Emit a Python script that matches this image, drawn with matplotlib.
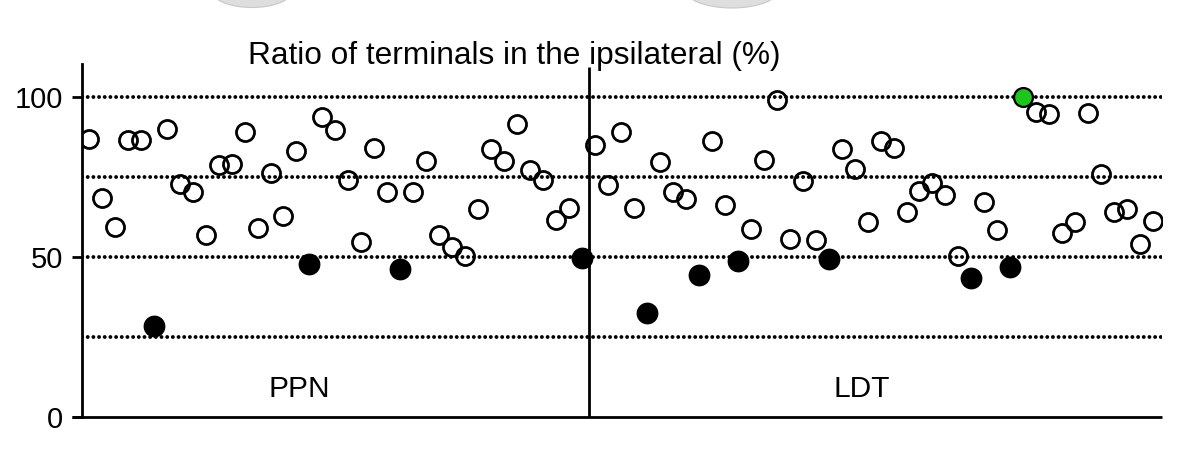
"""Ratio of terminals in the ipsilateral side, PPN vs LDT dot plot."""

import matplotlib

matplotlib.use("Agg")
import matplotlib.pyplot as plt
import numpy as np
from matplotlib.patches import Ellipse

plt.rcParams["font.family"] = ["Liberation Sans", "DejaVu Sans"]

W, H = 1177, 453

# values (%), in left-to-right order
ppn_values = [
    87.0, 68.6, 59.5, 86.5, 86.7, 28.6, 90.2, 73.0, 70.3, 57.1,
    78.8, 79.3, 89.1, 59.1, 76.4, 63.0, 83.2, 48.0, 93.9, 89.7,
    74.2, 54.9, 84.2, 70.3, 46.4, 70.4, 80.1, 57.1, 53.2, 50.5,
    65.1, 83.8, 80.2, 91.6, 77.2, 74.0, 61.7, 65.4, 49.9,
]
ppn_kind = ["open"] * len(ppn_values)
for i in (5, 17, 24, 38):
    ppn_kind[i] = "filled"

ldt_values = [
    85.1, 72.7, 89.3, 65.4, 32.7, 79.7, 70.4, 68.3, 44.6, 86.3,
    66.3, 48.8, 58.9, 80.3, 99.3, 55.6, 73.7, 55.3, 49.4, 83.7,
    77.6, 60.9, 86.3, 84.1, 64.2, 70.6, 73.2, 69.4, 50.3, 43.5,
    67.2, 58.5, 46.9, 100.0, 95.5, 94.9, 57.7, 60.9, 95.1, 75.9,
    64.2, 65.1, 54.1, 61.4,
]
ldt_kind = ["open"] * len(ldt_values)
for i in (4, 8, 11, 18, 29, 32):
    ldt_kind[i] = "filled"
ldt_kind[33] = "green"

group_names = ["PPN", "LDT"]
guide_levels = [25, 50, 75, 100]
y_ticks = [0, 50, 100]
title = "Ratio of terminals in the ipsilateral (%)"

styles = {
    "open": dict(mfc="none", mec="black", ms=13.0, mew=2.0, zorder=3),
    "filled": dict(mfc="black", mec="black", ms=14.2, mew=1.5, zorder=4),
    "green": dict(mfc="#1fc41f", mec="black", ms=13.6, mew=1.6, zorder=4),
}


def main():
    fig = plt.figure(figsize=(W / 100, H / 100), dpi=100)
    ax = fig.add_axes([82.3 / W, (H - 417.3) / H, (1161.7 - 82.3) / W, (417.3 - 64) / H])

    values = np.array(ppn_values + ldt_values)
    kinds = ppn_kind + ldt_kind
    xs = np.arange(len(values))
    split = len(ppn_values) - 0.45

    for level in guide_levels:
        ax.axhline(level, color="black", lw=2.8, ls=(0, (0.01, 1.45)),
                   dash_capstyle="round", zorder=1)

    for kind, st in styles.items():
        mask = np.array([k == kind for k in kinds])
        ax.plot(xs[mask], values[mask], "o", ls="none", **st)

    ax.plot([split, split], [0, 109.6], color="black", lw=2.0, zorder=5,
            solid_capstyle="butt")

    ax.set_xlim(-0.5, 82.66)
    ax.set_ylim(0, 110.4)
    ax.set_xticks([])
    ax.set_yticks(y_ticks)
    ax.tick_params(axis="y", length=7, width=2.0, pad=7, labelsize=21)
    for side in ("top", "right"):
        ax.spines[side].set_visible(False)
    for side in ("left", "bottom"):
        ax.spines[side].set_linewidth(2.0)
    ax.spines["bottom"].set_bounds(-1.3, 82.66)
    ax.spines["bottom"].set_capstyle("butt")

    # group labels and title
    centers = [16.24, 59.55]
    for name, cx in zip(group_names, centers):
        ax.text(cx, 6.3, name, ha="center", va="baseline", fontsize=21.5)
    ax.text(32.8, 110.3, title, ha="center", va="baseline", fontsize=22.8,
            clip_on=False)

    # grey shapes cut off at the top edge of the picture
    for cx, cy, ew, eh in [(252, 462, 80, 33), (732, 464, 95, 38)]:
        fig.patches.append(Ellipse((cx / W, cy / H), ew / W, eh / H,
                                   transform=fig.transFigure,
                                   facecolor="#dedede", edgecolor="#c8c8c8",
                                   lw=0.8))

    fig.savefig("out.png", dpi=100)


if __name__ == "__main__":
    main()
